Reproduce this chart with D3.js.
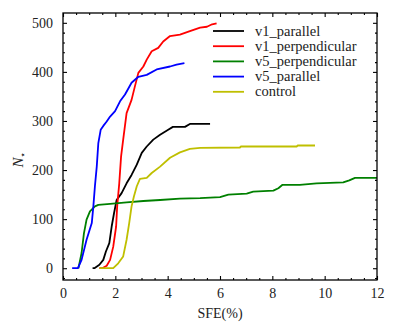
<!DOCTYPE html>
<html>
<head>
<meta charset="utf-8">
<script src="https://cdn.jsdelivr.net/npm/d3@7"></script>
<style>
  body { margin: 0; background: #fff; }
</style>
</head>
<body>
<script>
'use strict';

// series, [SFE %, N*]
const v1Parallel = [[1.13,0],[1.2,0],[1.39,7],[1.54,17],[1.64,34],[1.77,51],[1.86,85],[1.95,112],[2.05,139],[2.24,153],[2.43,173],[2.62,190],[2.82,211],[3.01,235],[3.2,248],[3.45,262],[3.71,272],[4.02,282],[4.2,288],[4.66,288],[4.85,294],[5.62,294]];
const v1Perpendicular = [[1.39,0],[1.5,0],[1.67,5],[1.8,17],[1.92,44],[2.03,85],[2.07,126],[2.15,173],[2.22,228],[2.3,262],[2.43,316],[2.62,343],[2.75,371],[2.88,398],[3.07,411],[3.2,425],[3.39,442],[3.64,449],[3.83,462],[4.09,473],[4.47,476],[4.85,483],[5.24,490],[5.5,492],[5.7,497],[5.87,499]];
const v5Perpendicular = [[0.59,0],[0.71,31],[0.8,71],[0.9,99],[1.03,116],[1.22,126],[1.35,129],[1.8,131],[2.43,134],[3.07,137],[3.71,139],[4.47,142],[5.24,143],[6.0,145],[6.32,150],[7.02,152],[7.27,156],[8.04,158],[8.23,163],[8.39,170],[9.05,170],[9.69,173],[10.71,175],[10.94,179],[11.16,184],[12,184]];
const v5Parallel = [[0.35,0],[0.57,0],[0.71,17],[0.9,58],[1.1,92],[1.16,126],[1.22,167],[1.29,207],[1.35,255],[1.44,282],[1.54,290],[1.67,299],[1.8,309],[1.99,320],[2.18,340],[2.37,354],[2.62,378],[2.88,390],[3.2,394],[3.58,405],[4.09,411],[4.34,415],[4.64,418]];
const control = [[1.39,0],[1.92,0],[2.11,10],[2.3,24],[2.43,58],[2.53,92],[2.62,126],[2.71,146],[2.82,167],[2.94,182],[3.2,184],[3.39,194],[3.71,207],[4.09,225],[4.47,236],[4.85,243],[5.24,245],[6.76,246],[6.8,248],[8.93,248],[8.97,250],[9.63,250]];

const seriesNames = ["v1_parallel", "v1_perpendicular", "v5_perpendicular", "v5_parallel", "control"];
const seriesData = [v1Parallel, v1Perpendicular, v5Perpendicular, v5Parallel, control];
const seriesColors = ["#000000", "#ff0000", "#008000", "#0000ff", "#bfbf00"];

const xMajor = [0, 2, 4, 6, 8, 10, 12];
const yMajor = [0, 100, 200, 300, 400, 500];

const serif = "'Liberation Serif', 'DejaVu Serif', serif";

const width = 397, height = 335;
const margin = {left: 63, top: 13, right: 20, bottom: 55};
const plotW = width - margin.left - margin.right;
const plotH = height - margin.top - margin.bottom;

const svg = d3.select('body').append('svg')
  .attr('width', width)
  .attr('height', height)
  .attr('font-family', serif);

const g = svg.append('g')
  .attr('transform', `translate(${margin.left},${margin.top})`);

const x = d3.scaleLinear().domain([0, 12]).range([0, plotW]);
const y = d3.scaleLinear().domain([-24, 520]).range([plotH, 0]);

const xMinor = d3.range(0, 12.01, 0.5).filter(v => !xMajor.includes(v));
const yMinor = d3.range(-20, 520, 20).filter(v => !yMajor.includes(v));

// clip the curves to the frame
g.append('clipPath').attr('id', 'clip')
  .append('rect').attr('width', plotW).attr('height', plotH);

const line = d3.line()
  .x(d => x(d[0]))
  .y(d => y(d[1]));

g.append('g').attr('clip-path', 'url(#clip)')
  .selectAll('path')
  .data(seriesData)
  .join('path')
    .attr('d', line)
    .attr('fill', 'none')
    .attr('stroke', (d, i) => seriesColors[i])
    .attr('stroke-width', 1.8)
    .attr('stroke-linejoin', 'round');

// axes with inward ticks on every side
function styleAxis(sel) {
  sel.attr('font-family', serif);
  sel.select('.domain').remove();
  sel.selectAll('line').attr('stroke', '#000').attr('stroke-width', 1.1);
  sel.selectAll('text')
    .attr('font-family', serif)
    .attr('font-size', 14)
    .attr('fill', '#222');
}

g.append('g').attr('transform', `translate(0,${plotH})`)
  .call(d3.axisBottom(x).tickValues(xMajor).tickSize(-4).tickPadding(8).tickFormat(d3.format('d')))
  .call(styleAxis);
g.append('g').attr('transform', `translate(0,${plotH})`)
  .call(d3.axisBottom(x).tickValues(xMinor).tickSize(-2).tickFormat(''))
  .call(styleAxis);
g.append('g')
  .call(d3.axisTop(x).tickValues(xMajor).tickSize(-4).tickFormat(''))
  .call(styleAxis);
g.append('g')
  .call(d3.axisTop(x).tickValues(xMinor).tickSize(-2).tickFormat(''))
  .call(styleAxis);

g.append('g')
  .call(d3.axisLeft(y).tickValues(yMajor).tickSize(-4).tickPadding(10).tickFormat(d3.format('d')))
  .call(styleAxis);
g.append('g')
  .call(d3.axisLeft(y).tickValues(yMinor).tickSize(-2).tickFormat(''))
  .call(styleAxis);
g.append('g').attr('transform', `translate(${plotW},0)`)
  .call(d3.axisRight(y).tickValues(yMajor).tickSize(-4).tickFormat(''))
  .call(styleAxis);
g.append('g').attr('transform', `translate(${plotW},0)`)
  .call(d3.axisRight(y).tickValues(yMinor).tickSize(-2).tickFormat(''))
  .call(styleAxis);

// frame
g.append('rect')
  .attr('width', plotW)
  .attr('height', plotH)
  .attr('fill', 'none')
  .attr('stroke', '#000')
  .attr('stroke-width', 1.3);

// axis labels
svg.append('text')
  .attr('x', margin.left + plotW / 2)
  .attr('y', 318)
  .attr('text-anchor', 'middle')
  .attr('fill', '#222')
  .attr('font-family', serif)
  .attr('font-size', 14)
  .text('SFE(%)');

const yLabel = svg.append('text')
  .attr('transform', `translate(23,${margin.top + plotH / 2 + 13})rotate(-90)`)
  .attr('text-anchor', 'middle')
  .attr('fill', '#222')
  .attr('font-family', serif)
  .attr('font-size', 15);
yLabel.append('tspan').attr('font-style', 'italic').text('N');
yLabel.append('tspan').attr('dy', 3).attr('font-size', 10).text('\u22C6');

// legend
const legend = svg.append('g').attr('transform', 'translate(213,31)');
const rows = legend.selectAll('g')
  .data(seriesNames)
  .join('g')
    .attr('transform', (d, i) => `translate(0,${i * 15.2})`);
rows.append('line')
  .attr('x1', 0).attr('x2', 31)
  .attr('stroke', (d, i) => seriesColors[i])
  .attr('stroke-width', 1.8);
rows.append('text')
  .attr('x', 42)
  .attr('dy', '0.32em')
  .attr('fill', '#222')
  .attr('font-family', serif)
  .attr('font-size', 14.5)
  .text(d => d);
</script>
</body>
</html>
